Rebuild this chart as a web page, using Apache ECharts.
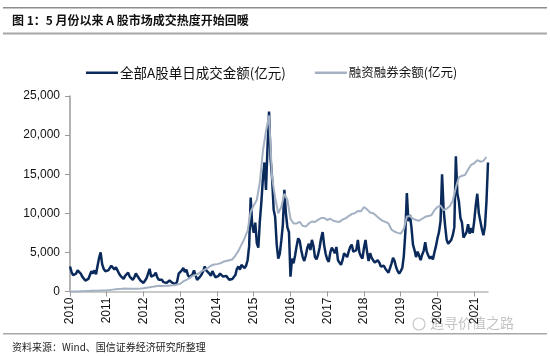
<!DOCTYPE html>
<html><head><meta charset="utf-8">
<script src="https://cdn.jsdelivr.net/npm/echarts@6/dist/echarts.min.js"></script>
<style>html,body{margin:0;padding:0;background:#fff}#c{width:550px;height:356px}</style>
</head><body><div id="c"></div>
<script>
// Half-month sampling, Jan 2010 (first half) .. May 2021 (second half)
const startYear = 2010, endYear = 2021, lastMonth2021 = 5;
const yTicks = [0, 5000, 10000, 15000, 20000, 25000];

// 全部A股单日成交金额(亿元), two readings per month
const volume = [
  3200,2500,2100,1900,2300,2700,2900,2300,1900,1700,1400,1300,1600,2100,2600,2300,2700,2200,3300,4300,5000,3500,2900,2600,
  2400,2700,2900,3300,3200,2800,3100,2700,2300,2000,1800,1600,2000,2200,2400,1900,1700,1500,1800,2300,2100,1700,1400,1200,
  1100,1300,1700,2300,2900,1900,1800,2100,2400,1800,1500,1300,1500,1200,1300,1100,1200,1400,1300,1100,1000,950,1300,2300,
  2300,2700,3000,2500,2800,2100,1800,1700,2200,2700,2100,1500,1700,1900,2200,2600,3200,2700,2900,2300,2000,2600,2200,1800,
  1700,2000,2300,2100,1900,1700,2000,1800,1500,1500,1600,1800,2100,2900,3200,2800,3400,3600,3000,3300,4000,5800,12000,8500,
  7500,8800,6200,5600,9000,11500,14500,16500,13000,18500,23000,17000,14500,10500,9500,6000,4200,4800,6500,8500,13000,10000,8200,7600,
  1900,4200,3600,4600,5800,6800,6500,5300,4400,3900,4600,5600,6100,5300,6600,5800,4400,4100,4700,5600,6800,7600,5900,4800,
  4100,3800,5000,5600,5500,4900,5700,4000,3800,3400,4000,4900,5100,4400,5100,5700,6000,5100,5000,5300,6600,5000,4500,4200,
  5600,6600,5100,3900,4900,4300,4200,3700,3600,4000,3700,3200,3000,3300,2900,2700,2400,3000,3600,4300,3900,3100,2600,2300,
  2600,3000,4500,7500,12600,9000,9800,8200,6000,5300,4400,5100,4600,4000,4700,5200,6300,5100,4600,4200,4500,4100,5000,5800,
  6800,7600,9000,15000,10500,8400,6600,6100,6200,6600,7200,8200,17300,12500,11500,9400,8800,6900,7000,7600,8600,7400,8100,7500,
  9000,11000,12500,10000,9000,8000,7200,8300,11500,16500
];

// 融资融券余额(亿元), one reading per month
const margin = [
  0,0,5,20,40,50,70,90,100,110,120,127,
  150,180,240,300,320,340,370,360,350,340,360,380,
  410,480,540,600,680,720,700,720,750,780,800,890,
  1000,1300,1500,1700,2000,2100,2300,2600,2800,3000,3300,3450,
  3500,3600,3800,3900,4000,4100,4600,5200,6000,6800,7800,10200,
  11000,11700,14000,18000,20500,22500,14500,12000,10000,10800,12500,11700,
  9300,8700,8700,8900,8400,8300,8700,8950,8900,9150,9400,9400,
  9150,9300,9050,8950,8900,9200,9350,9650,9900,10000,10300,10250,
  10800,10500,10100,10000,9700,9350,9050,8900,8700,7900,7650,7500,
  7400,8000,9600,9650,9300,9150,9050,9300,9550,9650,9750,10400,
  10800,11000,10400,10600,10900,11600,13300,14600,14800,14900,15600,16200,
  16400,16800,16600,16700,17200
];

const categories = [];
for (let y = startYear; y <= endYear; y++) {
  const mEnd = y === endYear ? lastMonth2021 : 12;
  for (let m = 1; m <= mEnd; m++) {
    const mm = (m < 10 ? '0' : '') + m;
    categories.push(y + '-' + mm + '-01');
    categories.push(y + '-' + mm + '-16');
  }
}
const marginSeries = categories.map((c, i) => (i % 2 === 0 ? margin[i / 2] : null));
const isYearStart = (i) => i % 24 === 0;

const chart = echarts.init(document.getElementById('c'), null, {renderer: 'canvas'});
const FONT = 'Liberation Sans, Arial, "Noto Sans CJK SC", sans-serif';
const LEGEND_FONT = '"Noto Sans CJK SC", sans-serif';
chart.setOption({
  animation: false,
  backgroundColor: '#fff',
  textStyle: {fontFamily: FONT},
  grid: {left: 70, right: 62, top: 96, bottom: 64.5, containLabel: false},
  legend: {
    top: 61, left: 81, itemGap: 29, itemWidth: 32, itemHeight: 2.5,
    textStyle: {fontSize: 13.5, color: '#111', fontFamily: LEGEND_FONT, padding: [0, 0, 0, -3]},
    data: [
      {name: '全部A股单日成交金额(亿元)', icon: 'rect'},
      {name: '融资融券余额(亿元)', icon: 'rect',
        textStyle: {fontSize: 12.5, color: '#111', fontFamily: LEGEND_FONT, padding: [0, 0, 0, -3]}}
    ]
  },
  xAxis: {
    type: 'category', data: categories, boundaryGap: false,
    axisLine: {lineStyle: {color: '#b9b9b9', width: 1.5}},
    axisTick: {interval: (i) => isYearStart(i), length: 5, lineStyle: {color: '#9a9a9a'}},
    axisLabel: {interval: (i) => isYearStart(i), rotate: 90, margin: 6, fontSize: 12, color: '#111',
      formatter: (v) => v.slice(0, 4)}
  },
  yAxis: {
    type: 'value', min: yTicks[0], max: yTicks[yTicks.length - 1], interval: 5000,
    axisLine: {show: true, lineStyle: {color: '#9a9a9a', width: 1.5}},
    axisTick: {show: true, length: 5, lineStyle: {color: '#9a9a9a'}},
    axisLabel: {fontSize: 12, color: '#111', margin: 10},
    splitLine: {show: false}
  },
  series: [
    {name: '全部A股单日成交金额(亿元)', type: 'line', data: volume, showSymbol: false,
      color: '#0b2a5c', lineStyle: {color: '#0b2a5c', width: 2.5}, z: 2},
    {name: '融资融券余额(亿元)', type: 'line', data: marginSeries, connectNulls: true, showSymbol: false,
      color: '#a3b1c2', lineStyle: {color: '#a3b1c2', width: 2}, z: 3}
  ],
  graphic: [
    {type: 'rect', shape: {x: 3, y: 7, width: 544, height: 1.5}, style: {fill: '#8c8c8c'}},
    {type: 'text', left: 12, top: 14, style: {text: '图 1：5 月份以来 A 股市场成交热度开始回暖', font: 'bold 12px "Noto Sans CJK SC", sans-serif', fill: '#111'}},
    {type: 'rect', shape: {x: 3, y: 32.5, width: 544, height: 2}, style: {fill: '#a8a8a8'}},
    {type: 'rect', shape: {x: 3, y: 333, width: 544, height: 1.5}, style: {fill: '#a8a8a8'}},
    {type: 'text', left: 12, top: 342, style: {text: '资料来源：Wind、国信证券经济研究所整理', font: '10px "Noto Sans CJK SC", sans-serif', fill: '#222'}},
    {type: 'circle', shape: {cx: 419, cy: 324, r: 6}, style: {fill: 'none', stroke: '#c8c8c8', lineWidth: 1.2}},
    {type: 'text', left: 430, top: 316, style: {text: '追寻价值之路', font: '14px "Noto Sans CJK SC", sans-serif', fill: '#c4c4c4'}}
  ]
});
</script></body></html>
